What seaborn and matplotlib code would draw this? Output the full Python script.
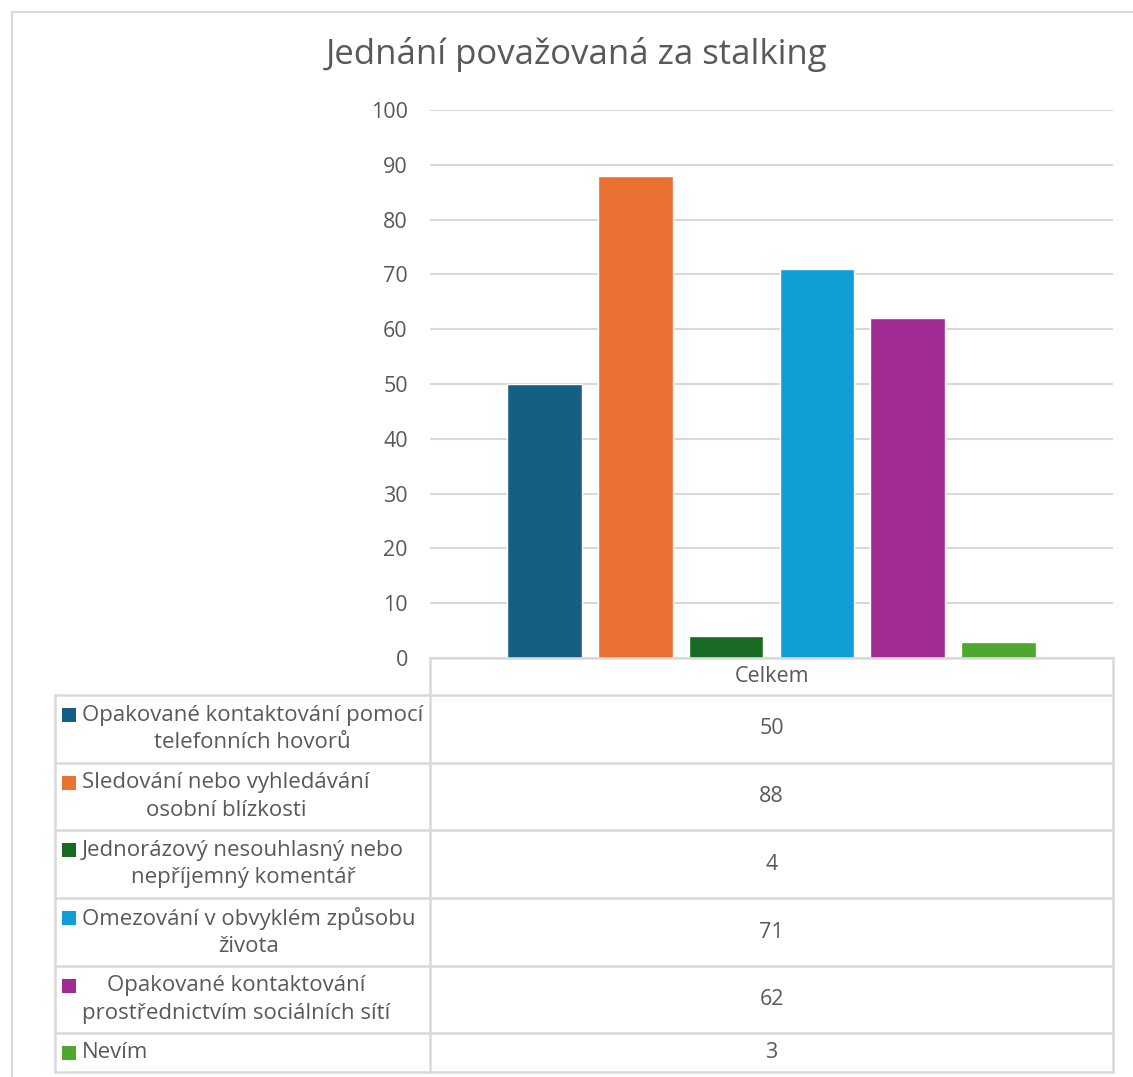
import seaborn as sns
import pandas as pd
import matplotlib.pyplot as plt
from matplotlib.patches import Rectangle
from matplotlib.lines import Line2D

# data
categories = [
    "Opakované kontaktování pomocí\ntelefonních hovorů",
    "Sledování nebo vyhledávání\nosobní blízkosti",
    "Jednorázový nesouhlasný nebo\nnepříjemný komentář",
    "Omezování v obvyklém způsobu\nživota",
    "Opakované kontaktování\nprostřednictvím sociálních sítí",
    "Nevím",
]
values = [50, 88, 4, 71, 62, 3]
colors = ["#156082", "#E97132", "#196B24", "#0F9ED5", "#A02B93", "#4EA72E"]
group_label = "Celkem"
title = "Jednání považovaná za stalking"
yticks = list(range(0, 101, 10))

sns.set_style("white")
plt.rcParams["font.family"] = ["Open Sans", "DejaVu Sans"]
TXT = "#595959"
GRID = "#D9D9D9"
FS = 15.5

W, H = 1133, 1077
fig = plt.figure(figsize=(W / 100, H / 100), dpi=100)

df = pd.DataFrame({"group": [group_label] * len(values), "cat": categories, "val": values})

# Plot area in pixels
x0, x1 = 430, 1113
y_top, y_zero = 110, 658
ax = fig.add_axes([x0 / W, 1 - y_zero / H, (x1 - x0) / W, (y_zero - y_top) / H])
sns.barplot(
    data=df, x="group", y="val", hue="cat", hue_order=categories,
    palette=colors, width=0.797, gap=0.18, legend=False, ax=ax,
    saturation=1, zorder=3,
)
ax.set_xlim(-0.5, 0.5)
ax.set_ylim(0, 100)
ax.set_yticks(yticks)
ax.set_xticks([])
ax.set_xlabel("")
ax.set_ylabel("")
ax.yaxis.grid(True, color=GRID, linewidth=1.5, zorder=0)
for s in ax.spines.values():
    s.set_visible(False)
ax.tick_params(axis="y", length=0, pad=16, labelsize=FS, labelcolor=TXT)

# Overlay in pixel coords for title, border and data table
ov = fig.add_axes([0, 0, 1, 1], zorder=5)
ov.set_xlim(0, W)
ov.set_ylim(H, 0)
ov.axis("off")
ov.patch.set_alpha(0)

# outer chart border
ov.add_line(Line2D([12, 12, W], [H, 12, 12], color=GRID, linewidth=1.5))

ov.text(577, 55, title, ha="center", va="center", fontsize=25, color=TXT)

# table grid
row_edges = [695, 763, 830, 898, 966, 1033, 1072]
tl = 55
lw = 1.8
ov.add_line(Line2D([x0, x1], [y_zero, y_zero], color=GRID, linewidth=lw))
ov.add_line(Line2D([x0, x0], [y_zero, row_edges[-1]], color=GRID, linewidth=lw))
ov.add_line(Line2D([x1, x1], [y_zero, row_edges[-1]], color=GRID, linewidth=lw))
ov.add_line(Line2D([tl, tl], [row_edges[0], row_edges[-1]], color=GRID, linewidth=lw))
for y in row_edges:
    ov.add_line(Line2D([tl, x1], [y, y], color=GRID, linewidth=lw))

ov.text((x0 + x1) / 2, (y_zero + row_edges[0]) / 2, group_label,
        ha="center", va="center", fontsize=FS, color=TXT)

for i, (cat, val, col) in enumerate(zip(categories, values, colors)):
    top, bot = row_edges[i], row_edges[i + 1]
    mid = (top + bot) / 2
    nlines = cat.count("\n") + 1
    line_h = 28
    first_y = mid - (nlines - 1) * line_h / 2
    ov.add_patch(Rectangle((62, first_y - 7), 14, 14, color=col, linewidth=0))
    ov.text(82, mid, cat, ha="left", va="center", multialignment="center",
            fontsize=16, color=TXT, linespacing=1.38)
    ov.text((x0 + x1) / 2, mid, str(val), ha="center", va="center",
            fontsize=FS, color=TXT)

fig.savefig("out.png", dpi=100, facecolor="white")
